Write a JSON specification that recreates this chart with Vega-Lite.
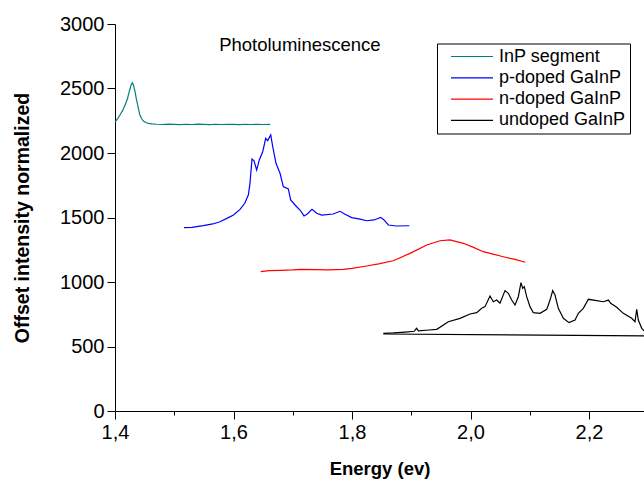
{
  "$schema": "https://vega.github.io/schema/vega-lite/v6.json",
  "width": 529,
  "height": 387,
  "autosize": {"type": "none"},
  "padding": {"left": 115, "top": 24, "right": 0, "bottom": 72},
  "background": "white",
  "config": {"view": {"stroke": null}, "font": "Liberation Sans"},
  "layer": [
    {
      "data": {"values": [
        {"s": "InP segment", "g": "a", "e": 1.400, "v": 2240},
        {"s": "InP segment", "g": "a", "e": 1.404, "v": 2262},
        {"s": "InP segment", "g": "a", "e": 1.4084, "v": 2295},
        {"s": "InP segment", "g": "a", "e": 1.413, "v": 2330},
        {"s": "InP segment", "g": "a", "e": 1.417, "v": 2372},
        {"s": "InP segment", "g": "a", "e": 1.421, "v": 2420},
        {"s": "InP segment", "g": "a", "e": 1.424, "v": 2475},
        {"s": "InP segment", "g": "a", "e": 1.427, "v": 2525},
        {"s": "InP segment", "g": "a", "e": 1.4292, "v": 2545},
        {"s": "InP segment", "g": "a", "e": 1.431, "v": 2530},
        {"s": "InP segment", "g": "a", "e": 1.4338, "v": 2475},
        {"s": "InP segment", "g": "a", "e": 1.436, "v": 2420},
        {"s": "InP segment", "g": "a", "e": 1.4377, "v": 2385},
        {"s": "InP segment", "g": "a", "e": 1.440, "v": 2335},
        {"s": "InP segment", "g": "a", "e": 1.442, "v": 2295},
        {"s": "InP segment", "g": "a", "e": 1.445, "v": 2265},
        {"s": "InP segment", "g": "a", "e": 1.4478, "v": 2248},
        {"s": "InP segment", "g": "a", "e": 1.452, "v": 2236},
        {"s": "InP segment", "g": "a", "e": 1.456, "v": 2230},
        {"s": "InP segment", "g": "a", "e": 1.462, "v": 2226},
        {"s": "InP segment", "g": "a", "e": 1.470, "v": 2223},
        {"s": "InP segment", "g": "a", "e": 1.480, "v": 2221},
        {"s": "InP segment", "g": "a", "e": 1.490, "v": 2224},
        {"s": "InP segment", "g": "a", "e": 1.500, "v": 2222},
        {"s": "InP segment", "g": "a", "e": 1.510, "v": 2220},
        {"s": "InP segment", "g": "a", "e": 1.520, "v": 2223},
        {"s": "InP segment", "g": "a", "e": 1.530, "v": 2221},
        {"s": "InP segment", "g": "a", "e": 1.540, "v": 2224},
        {"s": "InP segment", "g": "a", "e": 1.550, "v": 2222},
        {"s": "InP segment", "g": "a", "e": 1.560, "v": 2220},
        {"s": "InP segment", "g": "a", "e": 1.570, "v": 2223},
        {"s": "InP segment", "g": "a", "e": 1.580, "v": 2221},
        {"s": "InP segment", "g": "a", "e": 1.590, "v": 2223},
        {"s": "InP segment", "g": "a", "e": 1.600, "v": 2222},
        {"s": "InP segment", "g": "a", "e": 1.610, "v": 2220},
        {"s": "InP segment", "g": "a", "e": 1.620, "v": 2223},
        {"s": "InP segment", "g": "a", "e": 1.630, "v": 2221},
        {"s": "InP segment", "g": "a", "e": 1.640, "v": 2223},
        {"s": "InP segment", "g": "a", "e": 1.650, "v": 2221},
        {"s": "InP segment", "g": "a", "e": 1.662, "v": 2222},

        {"s": "p-doped GaInP", "g": "a", "e": 1.5165, "v": 1421},
        {"s": "p-doped GaInP", "g": "a", "e": 1.530, "v": 1424},
        {"s": "p-doped GaInP", "g": "a", "e": 1.549, "v": 1437},
        {"s": "p-doped GaInP", "g": "a", "e": 1.565, "v": 1450},
        {"s": "p-doped GaInP", "g": "a", "e": 1.5772, "v": 1467},
        {"s": "p-doped GaInP", "g": "a", "e": 1.5913, "v": 1499},
        {"s": "p-doped GaInP", "g": "a", "e": 1.600, "v": 1520},
        {"s": "p-doped GaInP", "g": "a", "e": 1.611, "v": 1563},
        {"s": "p-doped GaInP", "g": "a", "e": 1.619, "v": 1610},
        {"s": "p-doped GaInP", "g": "a", "e": 1.625, "v": 1674},
        {"s": "p-doped GaInP", "g": "a", "e": 1.6278, "v": 1765},
        {"s": "p-doped GaInP", "g": "a", "e": 1.6312, "v": 1953},
        {"s": "p-doped GaInP", "g": "a", "e": 1.6346, "v": 1940},
        {"s": "p-doped GaInP", "g": "a", "e": 1.6391, "v": 1868},
        {"s": "p-doped GaInP", "g": "a", "e": 1.6435, "v": 1946},
        {"s": "p-doped GaInP", "g": "a", "e": 1.6493, "v": 2010},
        {"s": "p-doped GaInP", "g": "a", "e": 1.6543, "v": 2114},
        {"s": "p-doped GaInP", "g": "a", "e": 1.6577, "v": 2096},
        {"s": "p-doped GaInP", "g": "a", "e": 1.6628, "v": 2140},
        {"s": "p-doped GaInP", "g": "a", "e": 1.6662, "v": 2049},
        {"s": "p-doped GaInP", "g": "a", "e": 1.6717, "v": 1920},
        {"s": "p-doped GaInP", "g": "a", "e": 1.6785, "v": 1843},
        {"s": "p-doped GaInP", "g": "a", "e": 1.684, "v": 1739},
        {"s": "p-doped GaInP", "g": "a", "e": 1.6925, "v": 1721},
        {"s": "p-doped GaInP", "g": "a", "e": 1.6965, "v": 1636},
        {"s": "p-doped GaInP", "g": "a", "e": 1.7038, "v": 1597},
        {"s": "p-doped GaInP", "g": "a", "e": 1.7122, "v": 1558},
        {"s": "p-doped GaInP", "g": "a", "e": 1.719, "v": 1512},
        {"s": "p-doped GaInP", "g": "a", "e": 1.7246, "v": 1527},
        {"s": "p-doped GaInP", "g": "a", "e": 1.7325, "v": 1563},
        {"s": "p-doped GaInP", "g": "a", "e": 1.7404, "v": 1533},
        {"s": "p-doped GaInP", "g": "a", "e": 1.7489, "v": 1519},
        {"s": "p-doped GaInP", "g": "a", "e": 1.7684, "v": 1527},
        {"s": "p-doped GaInP", "g": "a", "e": 1.7797, "v": 1548},
        {"s": "p-doped GaInP", "g": "a", "e": 1.7882, "v": 1525},
        {"s": "p-doped GaInP", "g": "a", "e": 1.7995, "v": 1499},
        {"s": "p-doped GaInP", "g": "a", "e": 1.8135, "v": 1488},
        {"s": "p-doped GaInP", "g": "a", "e": 1.8248, "v": 1475},
        {"s": "p-doped GaInP", "g": "a", "e": 1.8371, "v": 1481},
        {"s": "p-doped GaInP", "g": "a", "e": 1.8484, "v": 1501},
        {"s": "p-doped GaInP", "g": "a", "e": 1.854, "v": 1481},
        {"s": "p-doped GaInP", "g": "a", "e": 1.8613, "v": 1442},
        {"s": "p-doped GaInP", "g": "a", "e": 1.8755, "v": 1434},
        {"s": "p-doped GaInP", "g": "a", "e": 1.8967, "v": 1436},

        {"s": "n-doped GaInP", "g": "a", "e": 1.6459, "v": 1080},
        {"s": "n-doped GaInP", "g": "a", "e": 1.660, "v": 1088},
        {"s": "n-doped GaInP", "g": "a", "e": 1.680, "v": 1090},
        {"s": "n-doped GaInP", "g": "a", "e": 1.700, "v": 1094},
        {"s": "n-doped GaInP", "g": "a", "e": 1.7122, "v": 1098},
        {"s": "n-doped GaInP", "g": "a", "e": 1.740, "v": 1096},
        {"s": "n-doped GaInP", "g": "a", "e": 1.760, "v": 1094},
        {"s": "n-doped GaInP", "g": "a", "e": 1.7853, "v": 1098},
        {"s": "n-doped GaInP", "g": "a", "e": 1.800, "v": 1106},
        {"s": "n-doped GaInP", "g": "a", "e": 1.8248, "v": 1124},
        {"s": "n-doped GaInP", "g": "a", "e": 1.845, "v": 1140},
        {"s": "n-doped GaInP", "g": "a", "e": 1.8697, "v": 1165},
        {"s": "n-doped GaInP", "g": "a", "e": 1.8979, "v": 1222},
        {"s": "n-doped GaInP", "g": "a", "e": 1.9261, "v": 1287},
        {"s": "n-doped GaInP", "g": "a", "e": 1.9485, "v": 1320},
        {"s": "n-doped GaInP", "g": "a", "e": 1.9654, "v": 1326},
        {"s": "n-doped GaInP", "g": "a", "e": 1.9879, "v": 1300},
        {"s": "n-doped GaInP", "g": "a", "e": 2.005, "v": 1268},
        {"s": "n-doped GaInP", "g": "a", "e": 2.0216, "v": 1235},
        {"s": "n-doped GaInP", "g": "a", "e": 2.0554, "v": 1196},
        {"s": "n-doped GaInP", "g": "a", "e": 2.075, "v": 1175},
        {"s": "n-doped GaInP", "g": "a", "e": 2.0925, "v": 1153},

        {"s": "undoped GaInP", "g": "a", "e": 1.8529, "v": 602},
        {"s": "undoped GaInP", "g": "a", "e": 1.870, "v": 605},
        {"s": "undoped GaInP", "g": "a", "e": 1.890, "v": 612},
        {"s": "undoped GaInP", "g": "a", "e": 1.905, "v": 618},
        {"s": "undoped GaInP", "g": "a", "e": 1.909, "v": 641},
        {"s": "undoped GaInP", "g": "a", "e": 1.912, "v": 622},
        {"s": "undoped GaInP", "g": "a", "e": 1.930, "v": 628},
        {"s": "undoped GaInP", "g": "a", "e": 1.943, "v": 633},
        {"s": "undoped GaInP", "g": "a", "e": 1.9626, "v": 692},
        {"s": "undoped GaInP", "g": "a", "e": 1.9823, "v": 718},
        {"s": "undoped GaInP", "g": "a", "e": 1.9992, "v": 752},
        {"s": "undoped GaInP", "g": "a", "e": 2.0105, "v": 762},
        {"s": "undoped GaInP", "g": "a", "e": 2.0189, "v": 796},
        {"s": "undoped GaInP", "g": "a", "e": 2.0245, "v": 809},
        {"s": "undoped GaInP", "g": "a", "e": 2.0329, "v": 891},
        {"s": "undoped GaInP", "g": "a", "e": 2.0385, "v": 847},
        {"s": "undoped GaInP", "g": "a", "e": 2.0442, "v": 860},
        {"s": "undoped GaInP", "g": "a", "e": 2.0498, "v": 835},
        {"s": "undoped GaInP", "g": "a", "e": 2.0582, "v": 933},
        {"s": "undoped GaInP", "g": "a", "e": 2.0638, "v": 912},
        {"s": "undoped GaInP", "g": "a", "e": 2.0695, "v": 860},
        {"s": "undoped GaInP", "g": "a", "e": 2.0751, "v": 822},
        {"s": "undoped GaInP", "g": "a", "e": 2.0807, "v": 886},
        {"s": "undoped GaInP", "g": "a", "e": 2.0852, "v": 995},
        {"s": "undoped GaInP", "g": "a", "e": 2.0881, "v": 951},
        {"s": "undoped GaInP", "g": "a", "e": 2.0908, "v": 964},
        {"s": "undoped GaInP", "g": "a", "e": 2.0948, "v": 886},
        {"s": "undoped GaInP", "g": "a", "e": 2.1004, "v": 809},
        {"s": "undoped GaInP", "g": "a", "e": 2.106, "v": 762},
        {"s": "undoped GaInP", "g": "a", "e": 2.1173, "v": 757},
        {"s": "undoped GaInP", "g": "a", "e": 2.1286, "v": 788},
        {"s": "undoped GaInP", "g": "a", "e": 2.1342, "v": 860},
        {"s": "undoped GaInP", "g": "a", "e": 2.1387, "v": 933},
        {"s": "undoped GaInP", "g": "a", "e": 2.1426, "v": 899},
        {"s": "undoped GaInP", "g": "a", "e": 2.1482, "v": 796},
        {"s": "undoped GaInP", "g": "a", "e": 2.1567, "v": 719},
        {"s": "undoped GaInP", "g": "a", "e": 2.1662, "v": 685},
        {"s": "undoped GaInP", "g": "a", "e": 2.1764, "v": 705},
        {"s": "undoped GaInP", "g": "a", "e": 2.182, "v": 757},
        {"s": "undoped GaInP", "g": "a", "e": 2.1904, "v": 796},
        {"s": "undoped GaInP", "g": "a", "e": 2.1989, "v": 866},
        {"s": "undoped GaInP", "g": "a", "e": 2.213, "v": 855},
        {"s": "undoped GaInP", "g": "a", "e": 2.2242, "v": 847},
        {"s": "undoped GaInP", "g": "a", "e": 2.2327, "v": 860},
        {"s": "undoped GaInP", "g": "a", "e": 2.2366, "v": 835},
        {"s": "undoped GaInP", "g": "a", "e": 2.2467, "v": 804},
        {"s": "undoped GaInP", "g": "a", "e": 2.2579, "v": 757},
        {"s": "undoped GaInP", "g": "a", "e": 2.272, "v": 719},
        {"s": "undoped GaInP", "g": "a", "e": 2.2776, "v": 692},
        {"s": "undoped GaInP", "g": "a", "e": 2.2805, "v": 788},
        {"s": "undoped GaInP", "g": "a", "e": 2.2832, "v": 705},
        {"s": "undoped GaInP", "g": "a", "e": 2.289, "v": 641},
        {"s": "undoped GaInP", "g": "a", "e": 2.293, "v": 622},
        {"s": "undoped GaInP", "g": "a", "e": 2.300, "v": 610},
        {"s": "undoped GaInP", "g": "b", "e": 1.8529, "v": 597},
        {"s": "undoped GaInP", "g": "b", "e": 2.300, "v": 582}
      ]},
      "mark": {"type": "line", "strokeWidth": 1.2, "clip": true},
      "encoding": {
        "x": {
          "field": "e", "type": "quantitative",
          "scale": {"domain": [1.4, 2.2928], "nice": false, "zero": false},
          "axis": {
            "title": "Energy (ev)",
            "values": [1.4, 1.5, 1.6, 1.7, 1.8, 1.9, 2.0, 2.1, 2.2],
            "labelExpr": "round(datum.value*10) % 2 == 0 ? replace(format(datum.value, '.1f'), '.', ',') : ''",
            "tickSize": {"condition": {"test": "round(datum.value*10) % 2 == 0", "value": 8}, "value": 4},
            "grid": false, "labelOverlap": false, "labelFlush": false,
            "domainColor": "black", "tickColor": "black", "labelColor": "black", "titleColor": "black",
            "labelFontSize": 20, "labelPadding": 3,
            "titleFontSize": 18.5, "titleFontWeight": "bold", "titlePadding": 17
          }
        },
        "y": {
          "field": "v", "type": "quantitative",
          "scale": {"domain": [0, 3000], "nice": false},
          "axis": {
            "title": "Offset intensity normalized",
            "values": [0, 250, 500, 750, 1000, 1250, 1500, 1750, 2000, 2250, 2500, 2750, 3000],
            "labelExpr": "datum.value % 500 == 0 ? format(datum.value, 'd') : ''",
            "tickSize": {"condition": {"test": "datum.value % 500 == 0", "value": 8}, "value": 4},
            "grid": false, "labelOverlap": false, "labelFlush": false,
            "domainColor": "black", "tickColor": "black", "labelColor": "black", "titleColor": "black",
            "labelFontSize": 20, "labelPadding": 3,
            "titleFontSize": 19.5, "titleFontWeight": "bold", "titlePadding": 27
          }
        },
        "color": {
          "field": "s", "type": "nominal",
          "scale": {
            "domain": ["InP segment", "p-doped GaInP", "n-doped GaInP", "undoped GaInP"],
            "range": ["#008080", "#0000ff", "#ff0000", "#000000"]
          },
          "legend": {
            "title": null, "orient": "none", "legendX": 322, "legendY": 19.5,
            "strokeColor": "black", "fillColor": "white", "padding": 4, "cornerRadius": 0,
            "symbolType": "stroke", "symbolSize": 1764, "symbolStrokeWidth": 1.2,
            "clipHeight": 18,
            "symbolOffset": 9, "labelOffset": 5, "rowPadding": 3.3,
            "labelFontSize": 18, "labelColor": "black", "labelLimit": 300
          }
        },
        "detail": {"field": "g", "type": "nominal"}
      }
    },
    {
      "data": {"values": [{"e": 1.712, "v": 2837, "t": "Photoluminescence"}]},
      "mark": {"type": "text", "fontSize": 18.5, "color": "black", "align": "center", "baseline": "middle"},
      "encoding": {
        "x": {"field": "e", "type": "quantitative"},
        "y": {"field": "v", "type": "quantitative"},
        "text": {"field": "t", "type": "nominal"}
      }
    }
  ]
}
